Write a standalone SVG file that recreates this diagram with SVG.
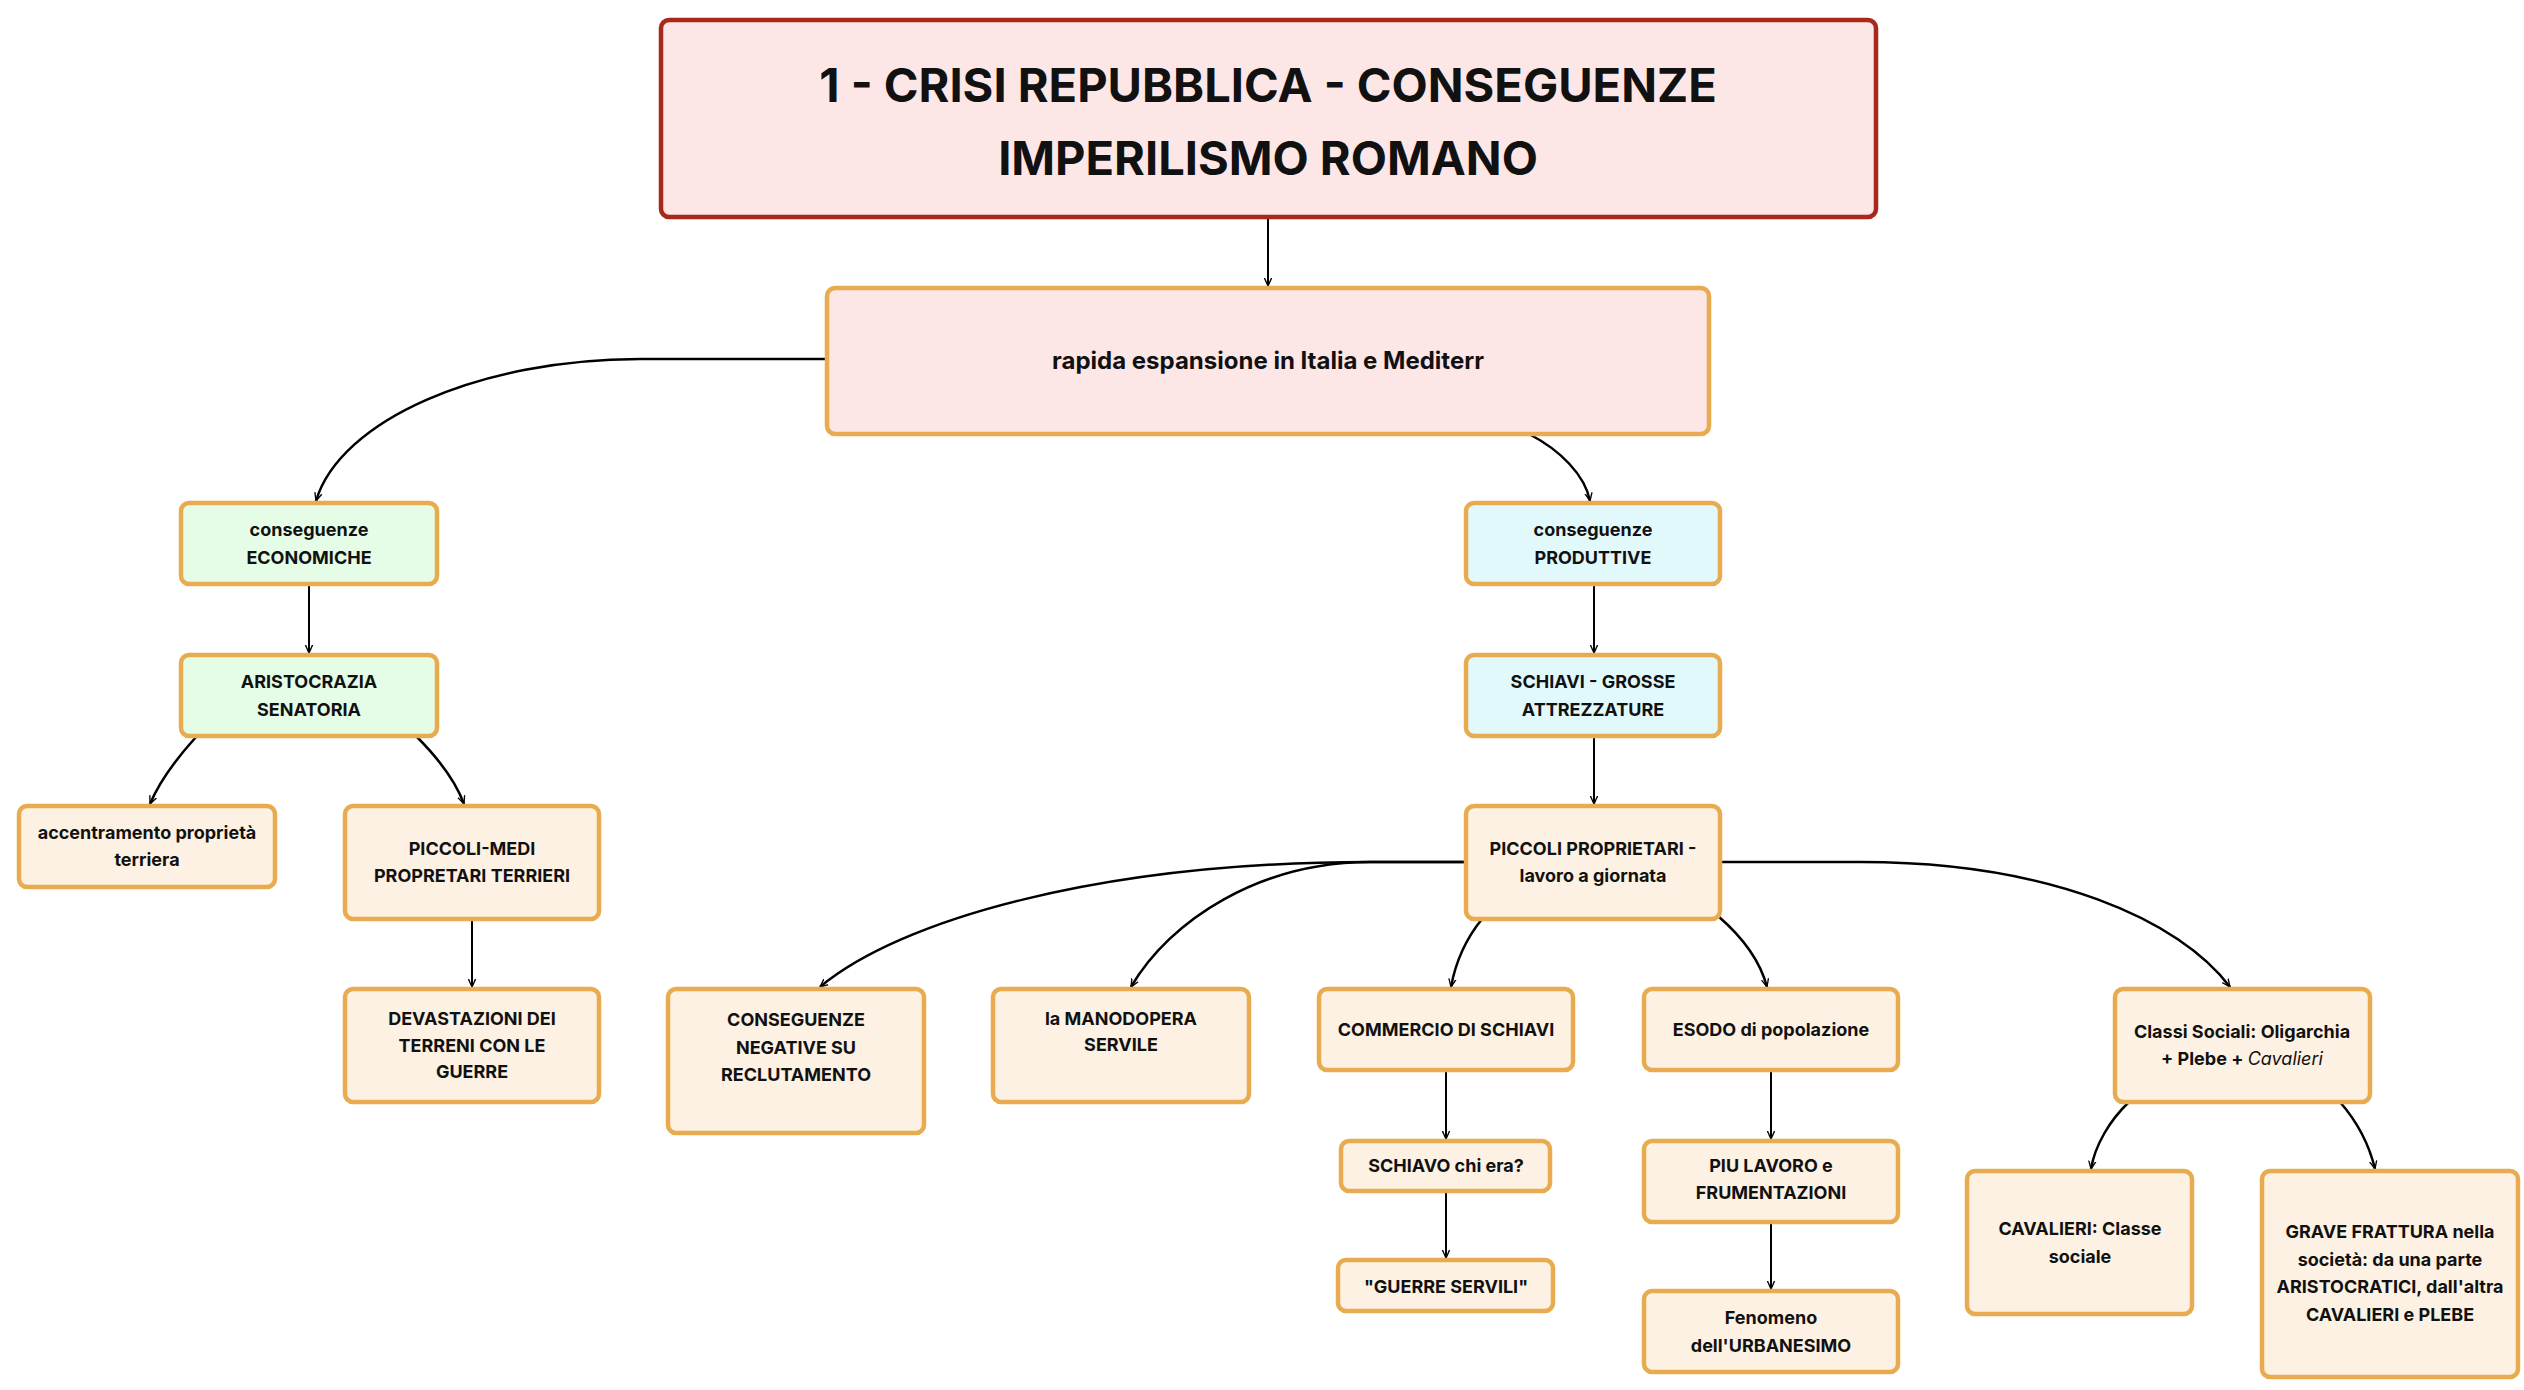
<svg xmlns="http://www.w3.org/2000/svg" width="2524" height="1390" viewBox="0 0 2524 1390">
<style>
text{font-family:Inter,"Open Sans","Liberation Sans",sans-serif;font-weight:700;fill:#111;text-anchor:middle;dominant-baseline:central}
.n{stroke:#e9ab4f;stroke-width:4.5}
.t{font-size:18px}
.beige{fill:#fdf1e3}.green{fill:#e5fde6}.cyan{fill:#e2f9fb}.pink{fill:#fde6e6}
.c{fill:none;stroke:#000;stroke-width:2.5}
.s{fill:none;stroke:#000;stroke-width:2}
</style>
<defs><marker id="a" viewBox="0 0 10 10" refX="9" refY="5" markerWidth="9" markerHeight="9" markerUnits="userSpaceOnUse" orient="auto"><path d="M0,1 L9,5 L0,9" fill="none" stroke="#000" stroke-width="1.5"/></marker></defs>
<rect width="2524" height="1390" fill="#fff"/>
<g id="connectors" marker-end="url(#a)">
<path class="s" d="M1268,217 V286"/>
<path class="c" d="M827,359 H640 C480,359 340,420 316,501"/>
<path class="c" d="M1529,434 C1560,450 1585,475 1590,501"/>
<path class="s" d="M309,584 V653"/>
<path class="c" d="M197,736 C175,760 158,785 150,804"/>
<path class="c" d="M416,736 C440,760 457,785 464,804"/>
<path class="s" d="M472,919 V987"/>
<path class="s" d="M1594,584 V653"/>
<path class="s" d="M1594,736 V804"/>
<path class="c" d="M1466,862 H1370 C1100,862 900,920 820,987"/>
<path class="c" d="M1466,862 H1370 C1260,862 1170,920 1131,987"/>
<path class="c" d="M1482,919 C1465,940 1455,965 1451,987"/>
<path class="c" d="M1718,916 C1740,935 1760,960 1767,987"/>
<path class="c" d="M1720,862 H1861 C2050,862 2180,920 2230,987"/>
<path class="s" d="M1446,1070 V1139"/>
<path class="s" d="M1446,1191 V1258"/>
<path class="s" d="M1771,1070 V1139"/>
<path class="s" d="M1771,1222 V1289"/>
<path class="c" d="M2129,1102 C2110,1120 2095,1145 2091,1169"/>
<path class="c" d="M2340,1102 C2360,1125 2370,1148 2375,1169"/>
</g>
<g id="title"><rect x="661" y="20" width="1215" height="197" rx="8" class="pink" stroke="#a8281c" stroke-width="4.5"/><text x="1268" y="84" font-size="47">1 - CRISI REPUBBLICA - CONSEGUENZE</text><text x="1268" y="157" font-size="47">IMPERILISMO ROMANO</text></g>
<g id="main"><rect x="827" y="288" width="882" height="146" rx="8" class="n pink"/><text x="1268" y="360" font-size="24">rapida espansione in Italia e Mediterr</text></g>
<g id="econ"><rect x="181" y="503" width="256" height="81" rx="8" class="n green"/><text class="t" x="309" y="529">conseguenze</text><text class="t" x="309" y="557">ECONOMICHE</text></g>
<g id="arist"><rect x="181" y="655" width="256" height="81" rx="8" class="n green"/><text class="t" x="309" y="681">ARISTOCRAZIA</text><text class="t" x="309" y="709">SENATORIA</text></g>
<g id="accentr"><rect x="19" y="806" width="256" height="81" rx="8" class="n beige"/><text class="t" x="147" y="832">accentramento proprietà</text><text class="t" x="147" y="859">terriera</text></g>
<g id="piccolimedi"><rect x="345" y="806" width="254" height="113" rx="8" class="n beige"/><text class="t" x="472" y="848">PICCOLI-MEDI</text><text class="t" x="472" y="875">PROPRETARI TERRIERI</text></g>
<g id="devast"><rect x="345" y="989" width="254" height="113" rx="8" class="n beige"/><text class="t" x="472" y="1018">DEVASTAZIONI DEI</text><text class="t" x="472" y="1045">TERRENI CON LE</text><text class="t" x="472" y="1071">GUERRE</text></g>
<g id="consneg"><rect x="668" y="989" width="256" height="144" rx="8" class="n beige"/><text class="t" x="796" y="1019">CONSEGUENZE</text><text class="t" x="796" y="1047">NEGATIVE SU</text><text class="t" x="796" y="1074">RECLUTAMENTO</text></g>
<g id="manod"><rect x="993" y="989" width="256" height="113" rx="8" class="n beige"/><text class="t" x="1121" y="1018">la MANODOPERA</text><text class="t" x="1121" y="1044">SERVILE</text></g>
<g id="prod"><rect x="1466" y="503" width="254" height="81" rx="8" class="n cyan"/><text class="t" x="1593" y="529">conseguenze</text><text class="t" x="1593" y="557">PRODUTTIVE</text></g>
<g id="schiavi"><rect x="1466" y="655" width="254" height="81" rx="8" class="n cyan"/><text class="t" x="1593" y="681">SCHIAVI - GROSSE</text><text class="t" x="1593" y="709">ATTREZZATURE</text></g>
<g id="piccoli"><rect x="1466" y="806" width="254" height="113" rx="8" class="n beige"/><text class="t" x="1593" y="848">PICCOLI PROPRIETARI -</text><text class="t" x="1593" y="875">lavoro a giornata</text></g>
<g id="commercio"><rect x="1319" y="989" width="254" height="81" rx="8" class="n beige"/><text class="t" x="1446" y="1029">COMMERCIO DI SCHIAVI</text></g>
<g id="schiavo"><rect x="1341" y="1141" width="209" height="50" rx="8" class="n beige"/><text class="t" x="1446" y="1165">SCHIAVO chi era?</text></g>
<g id="guerre"><rect x="1338" y="1260" width="215" height="51" rx="8" class="n beige"/><text class="t" x="1446" y="1286">"GUERRE SERVILI"</text></g>
<g id="esodo"><rect x="1644" y="989" width="254" height="81" rx="8" class="n beige"/><text class="t" x="1771" y="1029">ESODO di popolazione</text></g>
<g id="piu"><rect x="1644" y="1141" width="254" height="81" rx="8" class="n beige"/><text class="t" x="1771" y="1165">PIU LAVORO e</text><text class="t" x="1771" y="1192">FRUMENTAZIONI</text></g>
<g id="fenomeno"><rect x="1644" y="1291" width="254" height="81" rx="8" class="n beige"/><text class="t" x="1771" y="1317">Fenomeno</text><text class="t" x="1771" y="1345">dell'URBANESIMO</text></g>
<g id="classi"><rect x="2115" y="989" width="255" height="113" rx="8" class="n beige"/><text class="t" x="2242" y="1031">Classi Sociali: Oligarchia</text><text class="t" x="2242" y="1058">+ Plebe + <tspan font-style="italic" font-weight="400">Cavalieri</tspan></text></g>
<g id="cavalieri"><rect x="1967" y="1171" width="225" height="143" rx="8" class="n beige"/><text class="t" x="2080" y="1228">CAVALIERI: Classe</text><text class="t" x="2080" y="1256">sociale</text></g>
<g id="grave"><rect x="2262" y="1171" width="256" height="206" rx="8" class="n beige"/><text class="t" x="2390" y="1231">GRAVE FRATTURA nella</text><text class="t" x="2390" y="1259">società: da una parte</text><text class="t" x="2390" y="1286">ARISTOCRATICI, dall'altra</text><text class="t" x="2390" y="1314">CAVALIERI e PLEBE</text></g>
</svg>
